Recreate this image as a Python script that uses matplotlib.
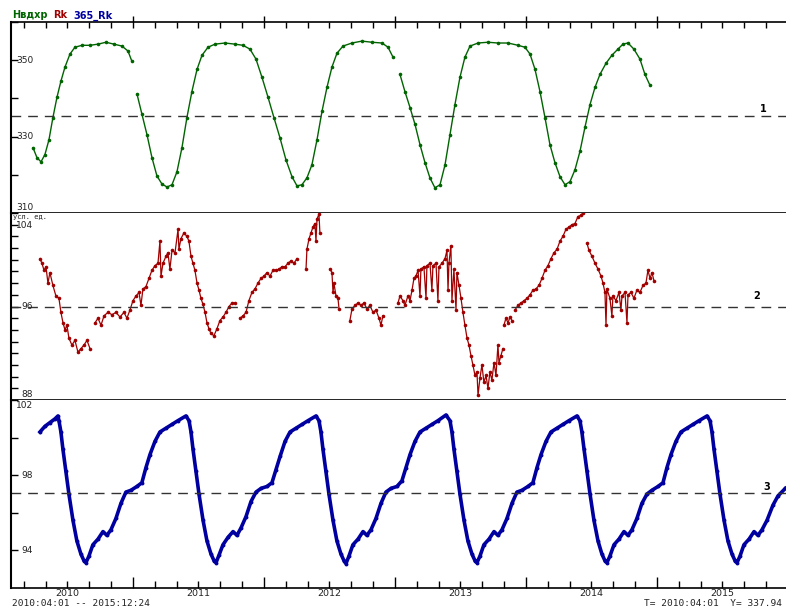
import numpy as np
import matplotlib
matplotlib.use("Agg")
import matplotlib.pyplot as plt

# time in decimal years
green_t = [2010.237, 2010.267, 2010.298, 2010.328, 2010.359, 2010.389, 2010.420, 2010.450, 2010.481, 2010.519,
           2010.557, 2010.611, 2010.672, 2010.733, 2010.794, 2010.855, 2010.916, 2010.962, 2010.992, np.nan,
           2011.031, 2011.069, 2011.107, 2011.145, 2011.183, 2011.221, 2011.260, 2011.298, 2011.336, 2011.374,
           2011.412, 2011.450, 2011.489, 2011.527, 2011.573, 2011.626, 2011.702, 2011.779, 2011.840, 2011.893,
           2011.939, 2011.985, 2012.031, 2012.076, 2012.122, 2012.168, 2012.214, 2012.252, 2012.290, 2012.328,
           2012.366, 2012.405, 2012.443, 2012.481, 2012.519, 2012.557, 2012.603, 2012.672, 2012.748, 2012.824,
           2012.901, 2012.947, 2012.985, np.nan, 2013.038, 2013.076, 2013.115, 2013.153, 2013.191, 2013.229,
           2013.267, 2013.305, 2013.344, 2013.382, 2013.420, 2013.458, 2013.496, 2013.534, 2013.573, 2013.634,
           2013.710, 2013.786, 2013.863, 2013.939, 2013.992, 2014.031, 2014.069, 2014.107, 2014.145, 2014.183,
           2014.221, 2014.260, 2014.298, 2014.336, 2014.374, 2014.412, 2014.450, 2014.489, 2014.527, 2014.565,
           2014.611, 2014.656, 2014.702, 2014.740, 2014.779, 2014.824, 2014.870, 2014.908, 2014.947]
green_v = [327.1, 324.5, 323.4, 325.3, 329.2, 335.0, 340.3, 344.5, 348.2, 351.6,
           353.4, 353.9, 353.9, 354.2, 354.7, 354.2, 353.7, 352.4, 349.7, np.nan,
           341.1, 335.8, 330.5, 324.5, 319.7, 317.6, 316.8, 317.4, 320.8, 327.1,
           335.0, 341.8, 347.6, 351.3, 353.4, 354.2, 354.5, 354.2, 353.9, 352.9,
           350.3, 345.5, 340.3, 335.0, 329.7, 323.9, 319.5, 317.1, 317.4, 319.2,
           322.6, 329.2, 336.6, 342.9, 348.2, 351.8, 353.7, 354.5, 355.0, 354.7,
           354.5, 353.4, 350.8, np.nan, 346.3, 341.8, 337.6, 333.2, 327.9, 323.2,
           319.2, 316.6, 317.4, 322.6, 330.5, 338.4, 345.5, 350.8, 353.7, 354.5,
           354.7, 354.5, 354.5, 353.9, 353.4, 351.6, 347.6, 341.8, 335.0, 327.9,
           323.2, 319.5, 317.4, 318.2, 321.3, 326.1, 332.4, 338.4, 342.9, 346.3,
           349.2, 351.3, 352.9, 354.2, 354.5, 352.9, 350.3, 346.3, 343.4]

red_t = [2010.290, 2010.305, 2010.321, 2010.336, 2010.351, 2010.366, 2010.389, 2010.412, 2010.435, 2010.450,
         2010.466, 2010.481, 2010.496, 2010.511, 2010.534, 2010.557, 2010.580, 2010.603, 2010.626, 2010.649,
         2010.672, np.nan,
         2010.710, 2010.733, 2010.756, 2010.779, 2010.809, 2010.840, 2010.870, 2010.901, 2010.931, 2010.954,
         2010.977, 2011.000, 2011.023, 2011.046, 2011.061, 2011.076, 2011.099, 2011.122, 2011.145, 2011.168,
         2011.191, 2011.206, 2011.214, 2011.229, 2011.252, 2011.267, 2011.282, 2011.298, 2011.321, 2011.344,
         2011.351, 2011.366, 2011.389, 2011.412, 2011.427, 2011.443, 2011.458, 2011.473, 2011.489, 2011.504,
         2011.519, 2011.534, 2011.550, 2011.565, 2011.580, 2011.595, 2011.618, 2011.641, 2011.664, 2011.687,
         2011.710, 2011.733, 2011.756, 2011.779, np.nan,
         2011.817, 2011.840, 2011.863, 2011.885, 2011.908, 2011.931, 2011.954, 2011.977, 2012.000, 2012.023,
         2012.046, 2012.069, 2012.092, 2012.115, 2012.137, 2012.160, 2012.183, 2012.206, 2012.229, 2012.252,
         np.nan,
         2012.321, 2012.328, 2012.344, 2012.359, 2012.374, 2012.389, 2012.397, 2012.405, 2012.420, 2012.427,
         np.nan,
         2012.504, 2012.519, 2012.527, 2012.534, 2012.550, 2012.565, 2012.573, np.nan,
         2012.656, 2012.672, 2012.695, 2012.718, 2012.740, 2012.763, 2012.786, 2012.809, 2012.832, 2012.855,
         2012.878, 2012.893, 2012.908, np.nan,
         2013.023, 2013.038, 2013.061, 2013.076, 2013.099, 2013.115, 2013.130, 2013.145, 2013.160, 2013.176,
         2013.191, 2013.198, 2013.221, 2013.237, 2013.244, 2013.267, 2013.282, 2013.290, 2013.313, 2013.328,
         2013.336, 2013.359, 2013.382, 2013.397, 2013.405, 2013.412, 2013.427, 2013.435, 2013.450, 2013.466,
         2013.473, 2013.489, 2013.504, 2013.519, 2013.534, 2013.550, 2013.565, 2013.580, 2013.595, 2013.611,
         2013.626, 2013.634, 2013.649, 2013.664, 2013.679, 2013.695, 2013.710, 2013.725, 2013.740, 2013.756,
         2013.771, 2013.786, 2013.794, 2013.809, 2013.824, np.nan,
         2013.832, 2013.847, 2013.863, 2013.878, 2013.893, np.nan,
         2013.916, 2013.939, 2013.962, 2013.985, 2014.008, 2014.031, 2014.053, 2014.076, 2014.099, 2014.122,
         2014.145, 2014.168, 2014.191, 2014.214, 2014.237, 2014.260, 2014.282, 2014.305, 2014.328, 2014.351,
         2014.374, 2014.397, 2014.420, 2014.435, np.nan,
         2014.466, 2014.481, 2014.504, 2014.527, 2014.550, 2014.573, 2014.588, 2014.603, 2014.611, 2014.618,
         2014.641, 2014.656, 2014.664, 2014.687, 2014.710, 2014.725, 2014.733, 2014.756, 2014.771, 2014.779,
         2014.802, 2014.824, 2014.847, 2014.870, 2014.893, 2014.916, 2014.931, 2014.947, 2014.962, 2014.977]
red_v = [100.1, 99.7, 99.1, 99.4, 98.0, 98.9, 97.8, 96.9, 96.7, 95.5,
         94.6, 94.0, 94.4, 93.3, 92.7, 93.1, 92.1, 92.4, 92.7, 93.1,
         92.4, np.nan,
         94.6, 95.0, 94.4, 95.2, 95.5, 95.3, 95.5, 95.1, 95.5, 95.0,
         95.7, 96.5, 96.9, 97.2, 96.1, 97.5, 97.7, 98.4, 99.1, 99.5,
         99.7, 101.6, 98.6, 99.7, 100.3, 100.6, 99.2, 100.8, 100.6, 102.6,
         100.9, 101.8, 102.3, 102.0, 101.6, 100.3, 99.7, 99.1, 98.0, 97.4,
         96.7, 96.2, 95.5, 94.6, 94.1, 93.7, 93.5, 94.1, 94.8, 95.1,
         95.5, 96.0, 96.3, 96.3, np.nan,
         95.0, 95.2, 95.5, 96.5, 97.2, 97.5, 98.0, 98.4, 98.6, 98.9,
         98.6, 99.1, 99.1, 99.2, 99.4, 99.4, 99.7, 99.9, 99.7, 100.1,
         np.nan,
         99.2, 100.9, 101.8, 102.3, 102.8, 103.1, 101.6, 103.5, 103.9, 102.3,
         np.nan,
         99.2, 98.9, 97.2, 98.0, 96.9, 96.7, 95.8, np.nan,
         94.8, 95.8, 96.1, 96.3, 96.1, 96.3, 95.8, 96.1, 95.5, 95.7,
         95.0, 94.4, 95.2, np.nan,
         96.3, 96.9, 96.5, 96.1, 96.9, 96.5, 97.4, 98.4, 98.6, 99.1,
         96.9, 99.2, 99.4, 96.7, 99.5, 99.7, 97.4, 99.5, 99.7, 96.5,
         99.4, 99.7, 100.1, 100.8, 97.4, 99.7, 101.2, 96.5, 99.2, 95.7,
         98.9, 97.8, 96.7, 95.5, 94.4, 93.3, 92.7, 91.8, 91.0, 90.1,
         90.4, 88.4, 89.9, 91.0, 89.5, 90.1, 89.0, 90.4, 89.7, 91.2,
         90.1, 92.7, 91.2, 91.8, 92.4, np.nan,
         94.4, 95.0, 94.6, 95.1, 94.8, np.nan,
         95.7, 96.1, 96.3, 96.5, 96.7, 97.0, 97.4, 97.5, 97.8, 98.4,
         99.1, 99.5, 100.1, 100.6, 100.9, 101.6, 102.0, 102.6, 102.8, 103.0,
         103.1, 103.7, 103.8, 104.0, np.nan,
         101.4, 100.8, 100.3, 99.7, 99.2, 98.6, 98.0, 97.2, 94.4, 97.5,
         96.7, 95.2, 96.9, 96.5, 97.2, 95.7, 96.9, 97.2, 94.6, 97.0,
         97.2, 96.7, 97.4, 97.2, 97.8, 98.0, 99.1, 98.4, 98.9, 98.2]

blue_t = [2010.290, 2010.328, 2010.366, 2010.405, 2010.427,
          2010.435, 2010.450, 2010.465, 2010.488, 2010.511, 2010.542, 2010.572, 2010.603, 2010.626, 2010.641,
          2010.664, 2010.694, 2010.733, 2010.771, 2010.801, 2010.832, 2010.870, 2010.908, 2010.946, 2010.985,
          2011.030, 2011.068, 2011.099, 2011.130, 2011.168, 2011.206, 2011.252, 2011.297, 2011.343, 2011.404,
          2011.428, 2011.443, 2011.458, 2011.481, 2011.504, 2011.535, 2011.565, 2011.596, 2011.619, 2011.634,
          2011.657, 2011.687, 2011.726, 2011.764, 2011.794, 2011.825, 2011.863, 2011.901, 2011.939, 2011.978,
          2012.023, 2012.061, 2012.092, 2012.123, 2012.161, 2012.199, 2012.245, 2012.290, 2012.336, 2012.397,
          2012.420, 2012.435, 2012.450, 2012.473, 2012.496, 2012.527, 2012.557, 2012.588, 2012.611, 2012.626,
          2012.649, 2012.679, 2012.718, 2012.756, 2012.786, 2012.817, 2012.855, 2012.893, 2012.931, 2012.970,
          2013.015, 2013.053, 2013.084, 2013.115, 2013.153, 2013.191, 2013.237, 2013.282, 2013.328, 2013.389,
          2013.420, 2013.435, 2013.450, 2013.473, 2013.496, 2013.527, 2013.557, 2013.588, 2013.611, 2013.626,
          2013.649, 2013.679, 2013.718, 2013.756, 2013.786, 2013.817, 2013.855, 2013.893, 2013.931, 2013.970,
          2014.015, 2014.053, 2014.084, 2014.115, 2014.153, 2014.191, 2014.237, 2014.282, 2014.328, 2014.389,
          2014.412, 2014.427, 2014.443, 2014.466, 2014.489, 2014.519, 2014.550, 2014.580, 2014.603, 2014.618,
          2014.641, 2014.672, 2014.710, 2014.748, 2014.779, 2014.809, 2014.847, 2014.885, 2014.924, 2014.962,
          2015.008, 2015.046, 2015.076, 2015.107, 2015.145, 2015.183, 2015.229, 2015.275, 2015.321, 2015.382,
          2015.405, 2015.420, 2015.435, 2015.458, 2015.481, 2015.512, 2015.542, 2015.573, 2015.596, 2015.611,
          2015.634, 2015.664, 2015.703, 2015.741, 2015.771, 2015.802, 2015.840, 2015.885, 2015.924, 2015.980]
blue_v = [100.3, 100.6, 100.8, 101.0, 101.15,
          100.9, 100.3, 99.4, 98.2, 97.0, 95.6, 94.5, 93.8, 93.45, 93.35,
          93.7, 94.3, 94.6, 95.0, 94.8, 95.1, 95.7, 96.5, 97.1, 97.2,
          97.4, 97.6, 98.4, 99.1, 99.8, 100.3, 100.5, 100.7, 100.9, 101.15,
          100.9, 100.3, 99.4, 98.2, 97.0, 95.6, 94.5, 93.8, 93.45, 93.35,
          93.75, 94.3, 94.7, 95.0, 94.8, 95.2, 95.8, 96.6, 97.1, 97.3,
          97.4, 97.6, 98.3, 99.0, 99.8, 100.3, 100.5, 100.7, 100.9, 101.15,
          100.9, 100.3, 99.4, 98.2, 97.0, 95.6, 94.5, 93.8, 93.45, 93.3,
          93.7, 94.3, 94.6, 95.0, 94.8, 95.1, 95.7, 96.5, 97.1, 97.3,
          97.4, 97.7, 98.4, 99.1, 99.8, 100.3, 100.5, 100.7, 100.9, 101.2,
          100.9, 100.3, 99.4, 98.2, 97.0, 95.6, 94.5, 93.8, 93.45, 93.35,
          93.7, 94.3, 94.6, 95.0, 94.8, 95.1, 95.7, 96.5, 97.1, 97.2,
          97.4, 97.6, 98.4, 99.1, 99.8, 100.3, 100.5, 100.7, 100.9, 101.15,
          100.9, 100.3, 99.4, 98.2, 97.0, 95.6, 94.5, 93.8, 93.45, 93.35,
          93.7, 94.3, 94.6, 95.0, 94.8, 95.1, 95.7, 96.5, 97.0, 97.2,
          97.4, 97.6, 98.4, 99.1, 99.8, 100.3, 100.5, 100.7, 100.9, 101.15,
          100.9, 100.3, 99.4, 98.2, 97.0, 95.6, 94.5, 93.8, 93.45, 93.35,
          93.7, 94.3, 94.6, 95.0, 94.8, 95.1, 95.6, 96.4, 96.9, 97.3]

levels = [335.3, 96.0, 97.05]
panel_ids = ["1", "2", "3"]
ylims = [(310, 360), (88, 104), (92, 102)]
ytick_major = [[310, 320, 330, 340, 350, 360], list(range(88, 105)), [94, 96, 98, 100, 102]]
ytick_labels = [[310, 330, 350], [88, 96, 104], [94, 98, 102]]
years = [2010, 2011, 2012, 2013, 2014, 2015]
header = [("Нвдхр", "#006400"), ("Rk", "#a00000"), ("365_Rk", "#0000a0")]

W, H = 786, 607
fig = plt.figure(figsize=(W / 100, H / 100), dpi=100)

def fx(px):
    return px / W

def fy(py):
    return 1 - py / H

bounds = [(22, 213), (213, 400), (400, 588)]
axes = []
for top, bot in bounds:
    ax = fig.add_axes([fx(11), fy(bot), 1 - fx(11), (bot - top) / H])
    axes.append(ax)

colors = ["#006400", "#a00000", "#0000a0"]
series = [(green_t, green_v), (red_t, red_v), (blue_t, blue_v)]
styles = [dict(lw=1.0, ms=2.6), dict(lw=0.9, ms=2.6), dict(lw=2.6, ms=2.8)]
# offsets (points) for the edge labels so they stay inside each panel
top_offsets = [0, -6, -1]

xmin, xmax = 2010.069, 2015.985
for i, ax in enumerate(axes):
    t, v = series[i]
    ax.plot(t, v, '-', marker='o', color=colors[i], mew=0, **styles[i])
    ax.axhline(levels[i], color='#333333', lw=1.0, dashes=(7, 5))
    ax.set_xlim(xmin, xmax)
    ax.set_ylim(*ylims[i])
    ax.spines['right'].set_visible(False)
    ax.spines['left'].set_linewidth(1.5)
    ax.spines['bottom'].set_linewidth(1.2)
    ax.spines['top'].set_linewidth(1.2)
    if i > 0:
        ax.spines['top'].set_visible(False)
    ax.set_yticks(ytick_major[i])
    ax.tick_params(axis='y', direction='in', length=5, width=1, labelleft=False)
    lo, hi = ylims[i]
    for val in ytick_labels[i]:
        va = 'center'
        off = 0
        if val == lo:
            va, off = 'bottom', 1
        elif val == hi:
            va, off = 'top', top_offsets[i]
        ax.annotate(str(val), xy=(0.0285, val), xycoords=('axes fraction', 'data'),
                    xytext=(0, off), textcoords='offset points',
                    ha='right', va=va, fontsize=6.5, color='#222222')

# x ticks: year starts (major) and every two months (minor)
major_x = [y for y in range(2011, 2016)]
minor_x, minor_lab = [], []
for y in years:
    for m in [2, 4, 6, 8, 10]:
        pos = y + m / 12
        if xmin < pos < xmax:
            minor_x.append(pos)
            minor_lab.append(str(y) if m == 6 else "")

for i, ax in enumerate(axes):
    ax.set_xticks(major_x)
    ax.set_xticks(minor_x, minor=True)
    ax.tick_params(axis='x', which='both', bottom=False, top=False,
                   labelbottom=False, labeltop=False)

ax1, ax3 = axes[0], axes[2]
ax1.tick_params(axis='x', which='major', top=True, direction='inout', length=8, width=1)
ax1.tick_params(axis='x', which='minor', top=True, direction='in', length=4, width=1)
ax3.set_xticks(minor_x, labels=minor_lab, minor=True)
ax3.tick_params(axis='x', which='major', bottom=True, direction='in', length=8, width=1)
ax3.tick_params(axis='x', which='minor', bottom=True, direction='in', length=5, width=1,
                labelbottom=True, labelsize=6.8, pad=1, labelcolor='#222222')

# header
xs = [12, 53, 73]
for (txt, c), x in zip(header, xs):
    fig.text(fx(x), fy(15.5), txt, color=c, fontsize=7, fontweight='bold', va='center', ha='left')

fig.text(fx(13), fy(216.5), "усл. ед.", fontsize=5, va='center', ha='left', color='#222222',
         family='DejaVu Sans Mono')

for (x, y), lab in zip([(763, 109), (757, 296), (767, 487)], panel_ids):
    fig.text(fx(x), fy(y), lab, fontsize=7, fontweight='bold', ha='center', va='center')

fig.text(fx(12), fy(603), "2010:04:01 -- 2015:12:24", fontsize=6.8, family='DejaVu Sans Mono',
         ha='left', va='center', color='#222222')
fig.text(fx(782), fy(603), "T= 2010:04:01  Y= 337.94", fontsize=6.8, family='DejaVu Sans Mono',
         ha='right', va='center', color='#222222')

fig.savefig("out.png", dpi=100)
